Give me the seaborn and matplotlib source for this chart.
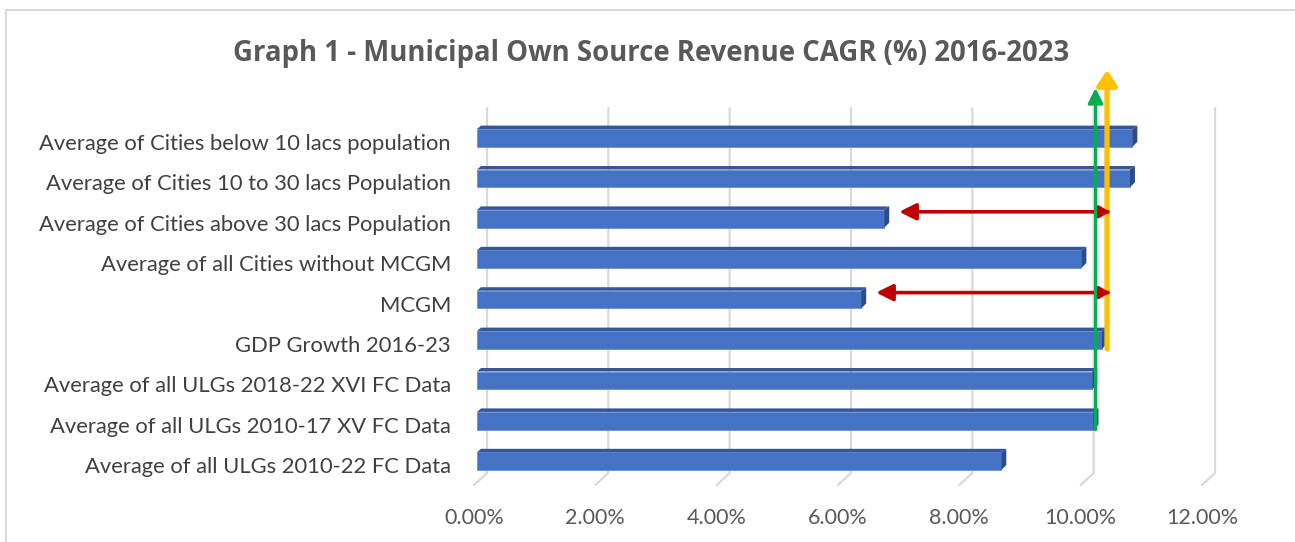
import matplotlib
matplotlib.use("Agg")
import matplotlib.pyplot as plt
import seaborn as sns
import pandas as pd
from matplotlib.patches import Polygon, Rectangle
from matplotlib.transforms import ScaledTranslation

categories = [
    "Average of Cities below 10 lacs population",
    "Average of Cities 10 to 30 lacs Population",
    "Average of Cities above 30 lacs Population",
    "Average of all Cities without MCGM",
    "MCGM",
    "GDP Growth 2016-23",
    "Average of all ULGs 2018-22 XVI FC Data",
    "Average of all ULGs 2010-17 XV FC Data",
    "Average of all ULGs 2010-22 FC Data",
]
cagr = [10.72, 10.68, 6.63, 9.88, 6.25, 10.22, 10.06, 10.08, 8.56]
x_ticks = [0, 2, 4, 6, 8, 10, 12]
x_tick_labels = ["0.00%", "2.00%", "4.00%", "6.00%", "8.00%", "10.00%", "12.00%"]

df = pd.DataFrame({"category": categories, "cagr": cagr})

sns.set_style("white")
plt.rcParams["font.family"] = ["Lato", "DejaVu Sans"]

W, H = 1295, 542
fig = plt.figure(figsize=(W / 100, H / 100), dpi=100)

# axes placed in pixel terms (back wall of the 3d chart)
left_px, right_px = 487, 1215
top_px, bot_px = 60, 490
row0_px, row_step = 138, 40.4
ax = fig.add_axes([left_px / W, 1 - bot_px / H, (right_px - left_px) / W, (bot_px - top_px) / H])

sns.barplot(data=df, x="cagr", y="category", orient="h", color="#4472C4",
            width=0.44, saturation=1, ax=ax, zorder=3)

ax.set_xlim(0, 12)
ymin = (top_px - row0_px) / row_step
ymax = (bot_px - row0_px) / row_step
ax.set_ylim(ymax, ymin)

px_x = 12 / (right_px - left_px)   # data units per pixel in x
px_y = 1 / row_step                # data units per pixel in y

# 3d look: shift front face, add top and side faces
for patch, v in zip(list(ax.patches), cagr):
    y0 = patch.get_y()
    h = patch.get_height()
    x0 = -10 * px_x
    x1 = v - 5 * px_x
    patch.set_x(x0)
    patch.set_width(x1 - x0)
    patch.set_edgecolor("#6E8FD0")
    patch.set_linewidth(0.6)
    patch.set_clip_on(False)
    top = Polygon([(x0, y0), (x1, y0), (x1 + 5 * px_x, y0 - 3.5 * px_y),
                   (x0 + 4 * px_x, y0 - 3.5 * px_y)],
                  closed=True, facecolor="#34569A", edgecolor="none", zorder=3, clip_on=False)
    side = Polygon([(x1, y0), (x1 + 5 * px_x, y0 - 3.5 * px_y),
                    (x1 + 5 * px_x, y0 + h - 5 * px_y), (x1, y0 + h)],
                   closed=True, facecolor="#2C4C86", edgecolor="none", zorder=3, clip_on=False)
    ax.add_patch(top)
    ax.add_patch(side)

# gridlines on the back wall with the floor edge
g_top = (108 - row0_px) / row_step
g_bot = (473 - row0_px) / row_step
g_floor = (485 - row0_px) / row_step
for t in x_ticks:
    ax.plot([t, t, t - 13 * px_x], [g_top, g_bot, g_floor], color="#D9D9D9",
            lw=1.6, zorder=1, clip_on=False)

for s in ax.spines.values():
    s.set_visible(False)
ax.set_xlabel("")
ax.set_ylabel("")
ax.set_xticks(x_ticks)
ax.set_xticklabels(x_tick_labels)
ax.tick_params(axis="x", length=0, pad=13, labelsize=15.5, labelcolor="#595959")
ax.tick_params(axis="y", length=0, pad=26, labelsize=15.8, labelcolor="#404040")
shift_x = ScaledTranslation(-13 / 100, 0, fig.dpi_scale_trans)
for lab in ax.get_xticklabels():
    lab.set_transform(lab.get_transform() + shift_x)
shift_y = ScaledTranslation(0, -4 / 100, fig.dpi_scale_trans)
for lab in ax.get_yticklabels():
    lab.set_transform(lab.get_transform() + shift_y)

# vertical reference arrows
gdp = cagr[5]
xv = cagr[7]
ax.annotate("", xy=(xv - 3 * px_x, (88 - row0_px) / row_step),
            xytext=(xv - 3 * px_x, 7 + 0.22),
            arrowprops=dict(arrowstyle="-|>,head_length=0.9,head_width=0.45",
                            color="#00B050", lw=2.3, shrinkA=0, shrinkB=0),
            zorder=5, annotation_clip=False)
ax.annotate("", xy=(gdp, (70 - row0_px) / row_step),
            xytext=(gdp, 5 + 0.22),
            arrowprops=dict(arrowstyle="-|>,head_length=0.9,head_width=0.6",
                            color="#FFC000", lw=3.8, shrinkA=0, shrinkB=0),
            zorder=4, annotation_clip=False)

# horizontal red arrows (big head on the left, small one on the right)
for i in [2, 4]:
    yy = i - 7 * px_y
    ax.annotate("", xy=(cagr[i] + 10 * px_x, yy), xytext=(gdp + 1 * px_x, yy),
                arrowprops=dict(arrowstyle="-|>,head_length=1.0,head_width=0.5",
                                color="#C00000", lw=2.6, shrinkA=0, shrinkB=0),
                zorder=4, annotation_clip=False)
    ax.annotate("", xy=(gdp + 3 * px_x, yy), xytext=(gdp - 10 * px_x, yy),
                arrowprops=dict(arrowstyle="-|>,head_length=0.6,head_width=0.35",
                                color="#C00000", lw=2.6, shrinkA=0, shrinkB=0),
                zorder=4, annotation_clip=False)

fig.text(0.503, 1 - 53 / H, "Graph 1 - Municipal Own Source Revenue CAGR (%) 2016-2023",
         ha="center", va="center", fontsize=19.8, fontweight="bold", color="#595959",
         family=["Open Sans", "DejaVu Sans"])

# chart frame
fig.patches.append(Rectangle((6 / W, -0.1), 1.2, 1 - 10 / H + 0.1, transform=fig.transFigure,
                             fill=False, edgecolor="#D9D9D9", lw=1.5, zorder=0))

fig.savefig("out.png", dpi=100)
